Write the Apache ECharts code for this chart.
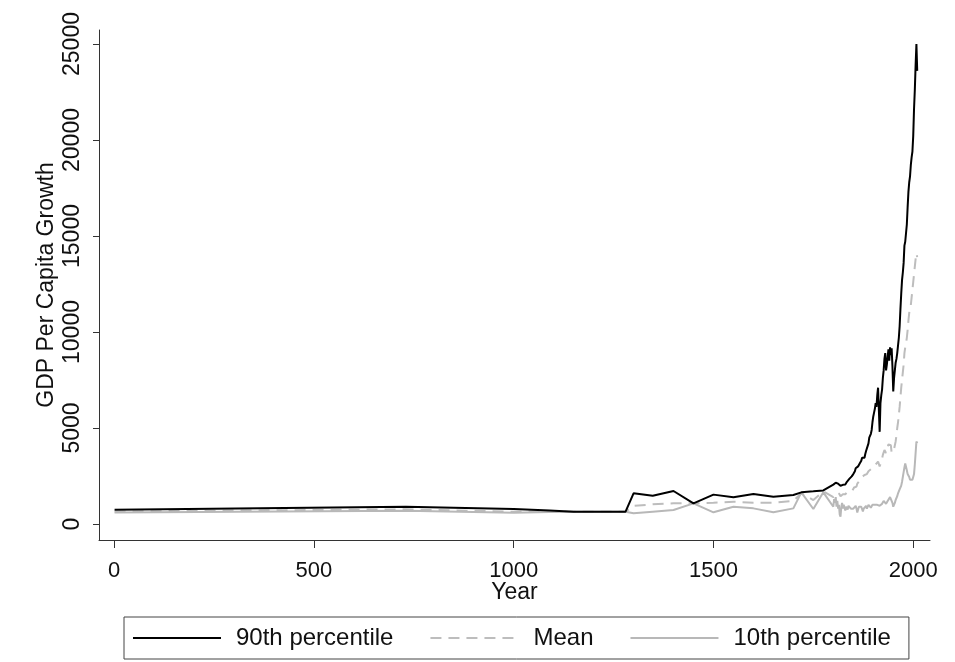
<!DOCTYPE html>
<html>
<head>
<meta charset="utf-8">
<script src="https://cdn.jsdelivr.net/npm/echarts@6/dist/echarts.min.js"></script>
<style>
  html, body { margin: 0; padding: 0; background: #fff; }
  #chart { width: 955px; height: 662px; }
</style>
</head>
<body>
<div id="chart"></div>
<script>
// Observation years (sparse before 1800, every two years afterwards)
const years = [
  1, 730, 1000, 1090, 1150, 1280, 1300, 1348, 1400, 1450, 1500, 1550, 1600, 1650, 1700, 1720, 1750, 1775,
  1800, 1802, 1804, 1806, 1808, 1810, 1812, 1814, 1816, 1818,
  1820, 1822, 1824, 1826, 1828, 1830, 1832, 1834, 1836, 1838,
  1840, 1842, 1844, 1846, 1848, 1850, 1852, 1854, 1856, 1858,
  1860, 1862, 1864, 1866, 1868, 1870, 1872, 1874, 1876, 1878,
  1880, 1882, 1884, 1886, 1888, 1890, 1892, 1894, 1896, 1898,
  1900, 1902, 1904, 1906, 1908, 1910, 1912, 1914, 1916, 1918,
  1920, 1922, 1924, 1926, 1928, 1930, 1932, 1934, 1936, 1938,
  1940, 1942, 1944, 1946, 1948, 1950, 1952, 1954, 1956, 1958,
  1960, 1962, 1964, 1966, 1968, 1970, 1972, 1974, 1976, 1978,
  1980, 1982, 1984, 1986, 1988, 1990, 1992, 1994, 1996, 1998,
  2000, 2002, 2004, 2006, 2008, 2010
];

// 90th percentile of GDP per capita across countries
const p90 = [
  745, 900, 780, 700, 640, 640, 1600, 1475, 1720, 1075, 1530, 1390, 1560, 1420, 1510, 1650, 1700, 1750,
  2050, 2100, 2080, 2150, 2120, 2180, 2100, 2160, 2050, 1990,
  1950, 1980, 2040, 2100, 2020, 2060, 2150, 2200, 2300, 2280,
  2350, 2300, 2420, 2480, 2400, 2600, 2650, 2750, 2900, 2800,
  2950, 3000, 3100, 3150, 3250, 3300, 3450, 3400, 3500, 3450,
  3650, 3800, 3750, 3900, 4200, 4500, 4400, 4700, 4900, 5300,
  5600, 5800, 6000, 6300, 6100, 6700, 7100, 7000, 4800, 6300,
  6700, 7000, 7600, 8000, 8600, 8900, 8000, 8300, 8700, 9100,
  8500, 9200, 8800, 9150, 8200, 6900, 7600, 8000, 8400, 8600,
  8900, 9300, 9700, 10300, 11200, 12000, 12700, 13100, 13600, 14500,
  14700, 14800, 15600, 16500, 17300, 17800, 18100, 18700, 19100, 19400,
  20200, 21600, 22600, 23900, 25000, 23600
];

// Cross-country mean
const meanGdp = [
  650, 765, 640, 660, 640, 640, 940, 1025, 1075, 1075, 1110, 1160, 1110, 1110, 1200, 1600, 1250, 1700,
  1400, 1450, 1380, 1500, 1420, 1550, 1480, 1600, 1500, 1450,
  1400, 1480, 1550, 1500, 1600, 1550, 1650, 1600, 1700, 1650,
  1750, 1700, 1800, 1780, 1750, 1850, 1900, 1950, 2000, 1950,
  2100, 2150, 2200, 2250, 2300, 2350, 2450, 2500, 2450, 2550,
  2600, 2650, 2600, 2700, 2750, 2800, 2750, 2850, 2900, 2950,
  2950, 3000, 3050, 3100, 3050, 3150, 3250, 3200, 3000, 3100,
  3250, 3400, 3600, 3700, 3850, 3900, 3700, 3850, 4000, 4150,
  4050, 4200, 4100, 3700, 3600, 3700, 3900, 4000, 4300, 4600,
  5000, 5300, 5700, 6100, 6600, 7100, 7500, 7900, 8300, 8900,
  9200, 9400, 9700, 10100, 10600, 11000, 11100, 11400, 11800, 12200,
  12600, 13000, 13400, 13800, 14100, 13900
];

// 10th percentile
const p10 = [
  600, 690, 590, 620, 640, 640, 555, 640, 730, 1075, 610, 900, 815, 610, 815, 1650, 780, 1650,
  900, 1300, 1100, 1400, 900, 1200, 800, 1000, 500, 380,
  900, 1100, 800, 1000, 1100, 700, 900, 1000, 750, 950,
  850, 900, 800, 850, 700, 800, 900, 850, 950, 800,
  600, 500, 900, 850, 800, 900, 850, 650, 800, 900,
  850, 950, 800, 900, 1000, 900, 950, 850, 900, 1000,
  1050, 950, 1000, 1100, 950, 1000, 1100, 1050, 950, 900,
  1000, 1050, 1150, 1200, 1250, 1150, 1050, 1100, 1200, 1300,
  1250, 1400, 1500, 1300, 1100, 900, 1000, 1100, 1250, 1350,
  1450, 1600, 1700, 1800, 1900, 2000, 2200, 2450, 2700, 2950,
  3150, 3050, 2800, 2600, 2500, 2450, 2300, 2200, 2250, 2300,
  2450, 2600, 3100, 3700, 4300, 4200
];

const xTicks = [0, 500, 1000, 1500, 2000];
const yTicks = [0, 5000, 10000, 15000, 20000, 25000];
const seriesNames = ['90th percentile', 'Mean', '10th percentile'];

const FONT = '"Liberation Sans", Arial, sans-serif';
const AXIS_COLOR = '#333333';

const pairs = vals => years.map((y, i) => [y, vals[i]]);
const plain = v => String(v);

const chart = echarts.init(document.getElementById('chart'), null, { renderer: 'canvas' });

chart.setOption({
  animation: false,
  backgroundColor: '#ffffff',
  grid: { left: 99, right: 25, top: 30, bottom: 122, containLabel: false },
  xAxis: {
    type: 'value',
    min: -38,
    max: 2042,
    name: 'Year',
    nameLocation: 'middle',
    nameGap: 41,
    nameMoveOverlap: false,
    nameTextStyle: { fontFamily: FONT, fontSize: 23, color: '#111' },
    axisLine: { show: true, onZero: false, lineStyle: { color: AXIS_COLOR, width: 1 } },
    axisTick: { show: true, length: 8, customValues: xTicks, lineStyle: { color: AXIS_COLOR, width: 1 } },
    axisLabel: { customValues: xTicks, formatter: plain, margin: 20, fontFamily: FONT, fontSize: 22, color: '#111' },
    splitLine: { show: false }
  },
  yAxis: {
    type: 'value',
    min: -833,
    max: 25729,
    name: 'GDP Per Capita Growth',
    nameLocation: 'middle',
    nameGap: 41,
    nameMoveOverlap: false,
    nameTextStyle: { fontFamily: FONT, fontSize: 23, color: '#111' },
    axisLine: { show: true, onZero: false, lineStyle: { color: AXIS_COLOR, width: 1 } },
    axisTick: { show: true, length: 6, customValues: yTicks, lineStyle: { color: AXIS_COLOR, width: 1 } },
    axisLabel: { customValues: yTicks, formatter: plain, rotate: 90, margin: 15, fontFamily: FONT, fontSize: 23, color: '#111' },
    splitLine: { show: false }
  },
  legend: {
    data: seriesNames,
    left: 124,
    top: 617,
    orient: 'horizontal',
    itemWidth: 88,
    itemHeight: 14,
    itemGap: 36,
    padding: [9, 18, 9, 8],
    borderColor: '#444444',
    borderWidth: 1,
    itemStyle: { opacity: 0 },
    textStyle: { fontFamily: FONT, fontSize: 24, color: '#111', padding: [0, 0, 0, 10] }
  },
  series: [
    {
      name: seriesNames[0], type: 'line', data: pairs(p90),
      symbol: 'none', showSymbol: false, z: 3,
      lineStyle: { color: '#000000', width: 2 }, itemStyle: { color: '#000000' }
    },
    {
      name: seriesNames[1], type: 'line', data: pairs(meanGdp),
      symbol: 'none', showSymbol: false, z: 2,
      lineStyle: { color: '#bdbdbd', width: 2, type: [11, 7] }, itemStyle: { color: '#bdbdbd' }
    },
    {
      name: seriesNames[2], type: 'line', data: pairs(p10),
      symbol: 'none', showSymbol: false, z: 2,
      lineStyle: { color: '#b8b8b8', width: 2 }, itemStyle: { color: '#b8b8b8' }
    }
  ]
});
</script>
</body>
</html>
